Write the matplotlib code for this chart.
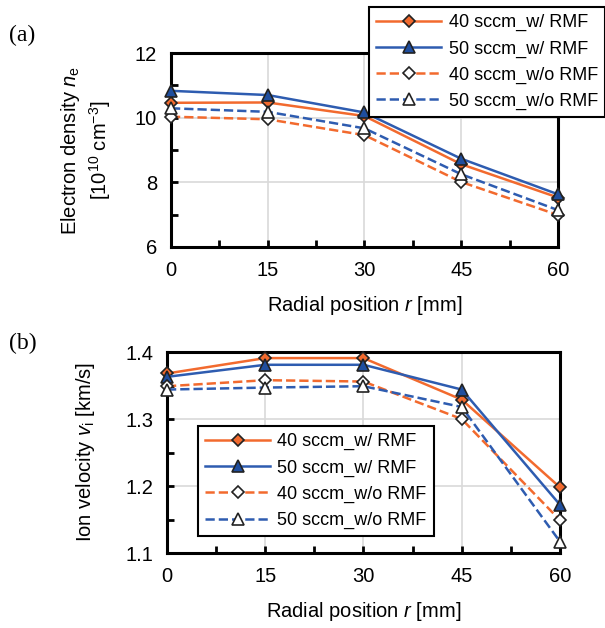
import matplotlib
matplotlib.use("Agg")
import matplotlib.pyplot as plt
from matplotlib.ticker import MultipleLocator

plt.rcParams['font.family'] = ['Liberation Sans', 'DejaVu Sans']
plt.rcParams['mathtext.fontset'] = 'custom'
plt.rcParams['mathtext.rm'] = 'Liberation Sans'
plt.rcParams['mathtext.it'] = 'Liberation Sans:italic'

# radial positions [mm]
r = [0, 15, 30, 45, 60]

# electron density [1e10 cm^-3]
ne_40_rmf = [10.46, 10.47, 10.05, 8.56, 7.53]
ne_50_rmf = [10.83, 10.70, 10.16, 8.73, 7.63]
ne_40_norm = [10.03, 9.95, 9.46, 8.01, 6.99]
ne_50_norm = [10.29, 10.18, 9.67, 8.25, 7.14]

# ion velocity [km/s]
vi_40_rmf = [1.368, 1.391, 1.391, 1.329, 1.198]
vi_50_rmf = [1.363, 1.381, 1.381, 1.344, 1.172]
vi_40_norm = [1.349, 1.358, 1.356, 1.300, 1.149]
vi_50_norm = [1.344, 1.347, 1.349, 1.318, 1.117]

labels = ['40 sccm_w/ RMF', '50 sccm_w/ RMF', '40 sccm_w/o RMF', '50 sccm_w/o RMF']

orange = '#F26A2E'
blue = '#2E5CB0'
dark_blue = '#1F4E9E'
FS = 14.5     # axis text
LFS = 13      # legend text


def draw(ax, series):
	styles = [
		dict(color=orange, ls='-', marker='D', ms=6.5, mfc=orange, mec='#222222'),
		dict(color=blue, ls='-', marker='^', ms=8.5, mfc=dark_blue, mec='#222222'),
		dict(color=orange, ls='--', marker='D', ms=6.5, mfc='white', mec='#222222'),
		dict(color=blue, ls='--', marker='^', ms=8.5, mfc='white', mec='#222222'),
	]
	for ys, lab, st in zip(series, labels, styles):
		ax.plot(r, ys, lw=1.8, mew=1.2, label=lab, clip_on=False, zorder=3, **st)

	ax.set_xlim(0, 60)
	ax.xaxis.set_major_locator(MultipleLocator(15))
	ax.xaxis.set_minor_locator(MultipleLocator(7.5))
	ax.grid(True, which='major', color='#D9D9D9', lw=1.2, zorder=0)
	ax.tick_params(which='both', direction='in', width=2, labelsize=FS)
	ax.tick_params(which='major', length=5, pad=10)
	ax.tick_params(which='minor', length=5)
	for s in ax.spines.values():
		s.set_linewidth(2.2)
	ax.set_xlabel('Radial position $r$ [mm]', fontsize=FS, labelpad=10)


fig = plt.figure(figsize=(6.05, 6.28), dpi=100)

ax1 = fig.add_axes([0.2826, 0.6067, 0.6397, 0.3089])
draw(ax1, [ne_40_rmf, ne_50_rmf, ne_40_norm, ne_50_norm])
ax1.set_ylim(6, 12)
ax1.yaxis.set_major_locator(MultipleLocator(2))
ax1.yaxis.set_minor_locator(MultipleLocator(1))
ax1.set_ylabel('Electron density $n_\\mathrm{e}$\n[10$^{10}$ cm$^{-3}$]', fontsize=FS,
	labelpad=16, linespacing=1.25)

ax2 = fig.add_axes([0.276, 0.1194, 0.6496, 0.32])
draw(ax2, [vi_40_rmf, vi_50_rmf, vi_40_norm, vi_50_norm])
ax2.set_ylim(1.1, 1.4)
ax2.yaxis.set_major_locator(MultipleLocator(0.1))
ax2.yaxis.set_minor_locator(MultipleLocator(0.05))
ax2.set_ylabel('Ion velocity $v_\\mathrm{i}$ [km/s]', fontsize=FS, labelpad=20)

leg_kw = dict(fontsize=LFS, frameon=True, fancybox=False, framealpha=1, edgecolor='black',
	handlelength=3.6, borderpad=0.4, labelspacing=0.5, handletextpad=0.4, borderaxespad=0)
lg1 = ax1.legend(loc='upper right', bbox_to_anchor=(1.0, 0.989), bbox_transform=fig.transFigure, **leg_kw)
lg1.get_frame().set_linewidth(1.5)
lg2 = ax2.legend(loc='upper left', bbox_to_anchor=(198/605, 1 - 426/628), bbox_transform=fig.transFigure, **leg_kw)
lg2.get_frame().set_linewidth(1.5)

fig.text(0.015, 0.943, '(a)', fontsize=17, family='Liberation Serif', va='center')
fig.text(0.015, 0.453, '(b)', fontsize=17, family='Liberation Serif', va='center')

fig.savefig('out.png', dpi=100)
